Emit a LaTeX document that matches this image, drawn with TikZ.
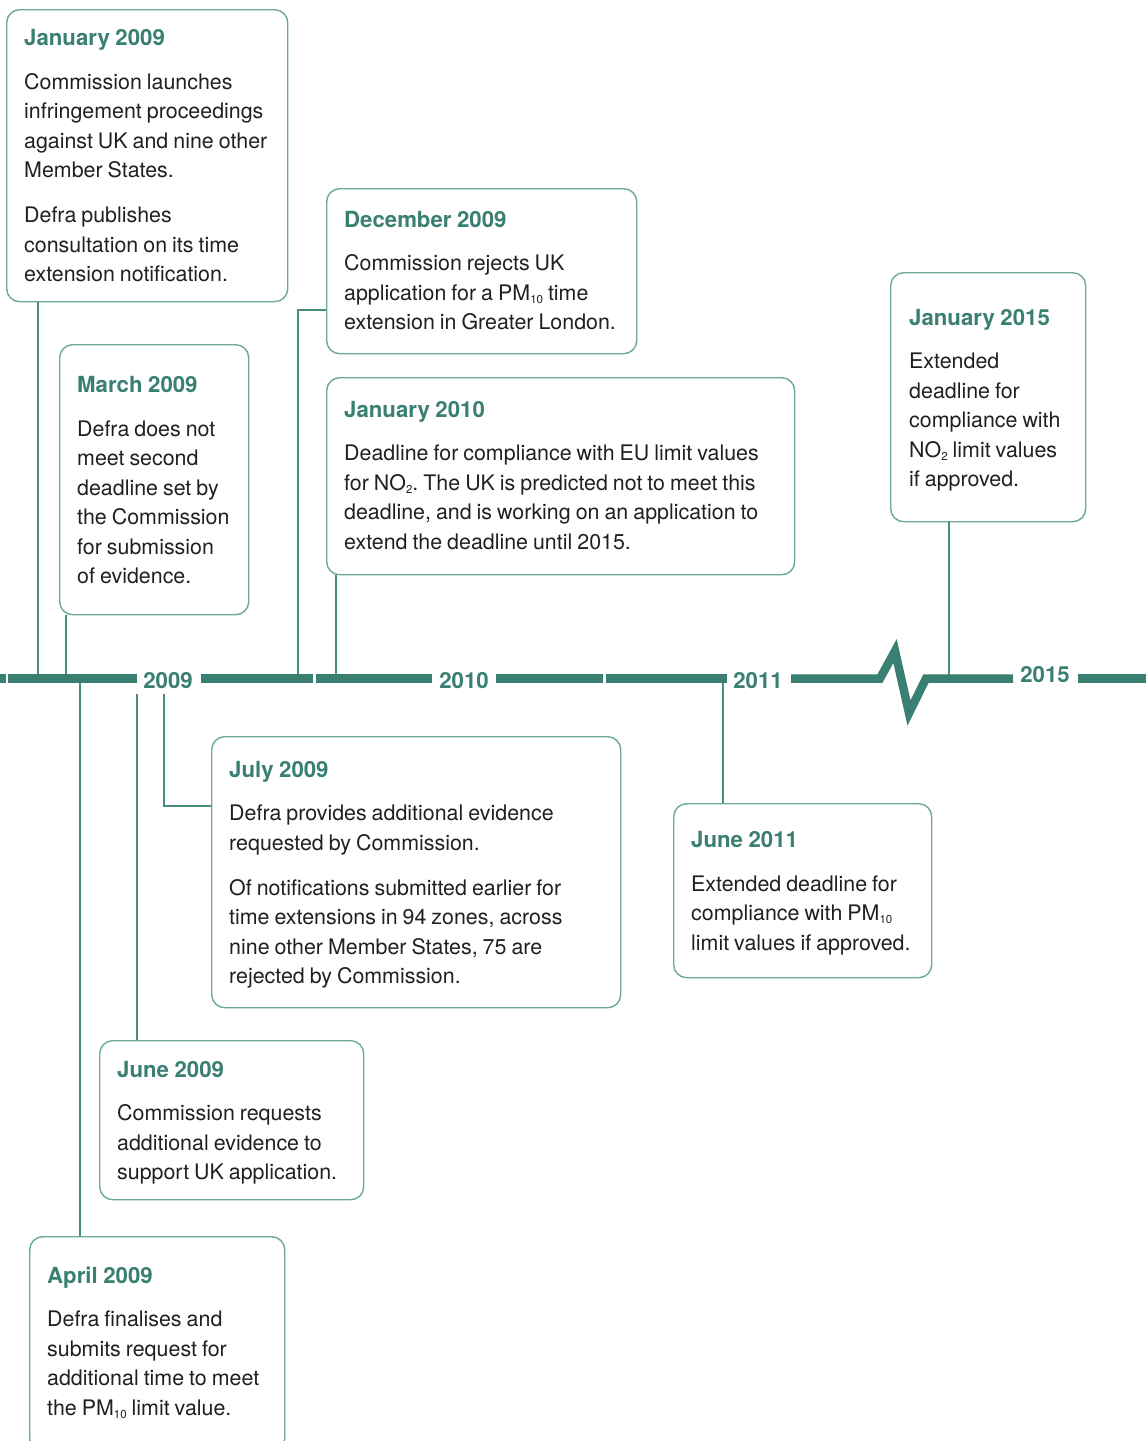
\documentclass[tikz,border=0pt]{standalone}
\usepackage{fontspec}
\setmainfont{TeX Gyre Heros}
\frenchspacing

\definecolor{barteal}{RGB}{58,128,114}
\definecolor{boxteal}{RGB}{108,168,156}
\definecolor{lineteal}{RGB}{72,142,128}
\definecolor{inkgray}{RGB}{35,31,32}

\newcommand\bodyfont{\fontsize{21.4}{29.5}\selectfont}
\newcommand\headfont{\fontsize{22.2}{29.5}\selectfont\bfseries}
\newcommand\evtitle[1]{\leavevmode{\headfont\spaceskip=5.6pt\relax\textcolor{barteal}{#1}}\par\vspace{14pt}}
\newcommand\evpar{\par\vspace{15.5pt}}
\newcommand\lowidx[1]{\raisebox{-3pt}{\fontsize{11.5}{11.5}\selectfont #1}}

\tikzset{
  evbox/.style={draw=boxteal, line width=1.4pt, rounded corners=13pt,
    anchor=north west, inner sep=0pt},
  evtext/.style={anchor=base west, inner sep=0pt, text width=#1,
    align=left, text=inkgray, font=\bodyfont,
    execute at begin node={\spaceskip=5pt plus 1pt minus 1pt\relax}},
  link/.style={draw=lineteal, line width=1.6pt},
  bar/.style={draw=barteal, line width=8.5pt, line join=miter},
  year/.style={text=barteal, font=\headfont, inner sep=0pt},
}

\begin{document}
\begin{tikzpicture}[x=1pt, y=-1pt]
\fill[white] (0,0) rectangle (1146,1441);
\useasboundingbox (0,0) rectangle (1146,1441);

% ---- event boxes ----
\node[evbox, minimum width=281pt, minimum height=292pt] (jan09) at (6,9) {};
\node[evtext=270pt] (jan09t) at (24,45.5) {\evtitle{January 2009}Commission launches\\infringement proceedings\\against UK and nine other\\Member States.\evpar Defra publishes\\consultation on its time\\extension notification.};

\node[evbox, minimum width=189pt, minimum height=270pt] (mar09) at (59,344) {};
\node[evtext=180pt] (mar09t) at (77,392.5) {\evtitle{March 2009}Defra does not\\meet second\\deadline set by\\the Commission\\for submission\\of evidence.};

\node[evbox, minimum width=310pt, minimum height=165pt] (dec09) at (326,188) {};
\node[evtext=300pt] (dec09t) at (344,227) {\evtitle{December 2009}Commission rejects UK\\application for a PM\lowidx{10} time\\extension in Greater London.};

\node[evbox, minimum width=468pt, minimum height=197pt] (jan10) at (326,377) {};
\node[evtext=450pt] (jan10t) at (344,417) {\evtitle{January 2010}Deadline for compliance with EU limit values\\for NO\lowidx{2}. The UK is predicted not to meet this\\deadline, and is working on an application to\\extend the deadline until 2015.};

\node[evbox, minimum width=195pt, minimum height=249pt] (jan15) at (890,272) {};
\node[evtext=185pt] (jan15t) at (909,325) {\evtitle{January 2015}Extended\\deadline for\\compliance with\\NO\lowidx{2} limit values\\if approved.};

\node[evbox, minimum width=409pt, minimum height=271pt] (jul09) at (211,736) {};
\node[evtext=395pt] (jul09t) at (229,777) {\evtitle{July 2009}Defra provides additional evidence\\requested by Commission.\evpar Of notifications submitted earlier for\\time extensions in 94 zones, across\\nine other Member States, 75 are\\rejected by Commission.};

\node[evbox, minimum width=258pt, minimum height=174pt] (jun11) at (673,803) {};
\node[evtext=250pt] (jun11t) at (691,847.5) {\evtitle{June 2011}Extended deadline for\\compliance with PM\lowidx{10}\\limit values if approved.};

\node[evbox, minimum width=264pt, minimum height=159pt] (jun09) at (99,1040) {};
\node[evtext=255pt] (jun09t) at (117,1077) {\evtitle{June 2009}Commission requests\\additional evidence to\\support UK application.};

\node[evbox, minimum width=255pt, minimum height=215pt] (apr09) at (29,1236) {};
\node[evtext=245pt] (apr09t) at (47,1283) {\evtitle{April 2009}Defra finalises and\\submits request for\\additional time to meet\\the PM\lowidx{10} limit value.};

% ---- anchor points on the time axis ----
\coordinate (pjan09) at (38,678.5);
\coordinate (pmar09) at (66,678.5);
\coordinate (papr09) at (80,678.5);
\coordinate (pjun09) at (137,694);
\coordinate (pjul09) at (164,694);
\coordinate (kjul09) at (164,806);
\coordinate (pdec09) at (298,678.5);
\coordinate (kdec09) at (298,310);
\coordinate (pjan10) at (336,678.5);
\coordinate (pjun11) at (723,678.5);
\coordinate (pjan15) at (949,678.5);

% ---- connectors ----
\draw[link] (jan09.south -| pjan09) -- (pjan09);
\draw[link] (mar09.south -| pmar09) -- (pmar09);
\draw[link] (papr09) -- (apr09.north -| papr09);
\draw[link] (pjun09) -- (jun09.north -| pjun09);
\draw[link] (pjul09) -- (kjul09) -- (kjul09 -| jul09.west);
\draw[link] (pdec09) -- (kdec09) -- (kdec09 -| dec09.west);
\draw[link] (jan10.south -| pjan10) -- (pjan10);
\draw[link] (pjun11) -- (jun11.north -| pjun11);
\draw[link] (jan15.south -| pjan15) -- (pjan15);

% ---- time axis ----
\draw[bar] (0,678.5) -- (6,678.5);
\draw[bar] (8,678.5) -- (137,678.5);
\draw[bar] (201,678.5) -- (313,678.5);
\draw[bar] (316,678.5) -- (432,678.5);
\draw[bar] (496,678.5) -- (603,678.5);
\draw[bar] (606,678.5) -- (727,678.5);
\draw[bar] (791,678.5) -- (880,678.5) -- (895,651) -- (909,713) -- (926,678.5) -- (1013,678.5);
\draw[bar] (1078,678.5) -- (1146,678.5);

\node[year] (y2009) at (168,680.5) {2009};
\node[year] (y2010) at (464,680.5) {2010};
\node[year] (y2011) at (758,680.5) {2011};
\node[year] (y2015) at (1045,675) {2015};
\end{tikzpicture}
\end{document}
